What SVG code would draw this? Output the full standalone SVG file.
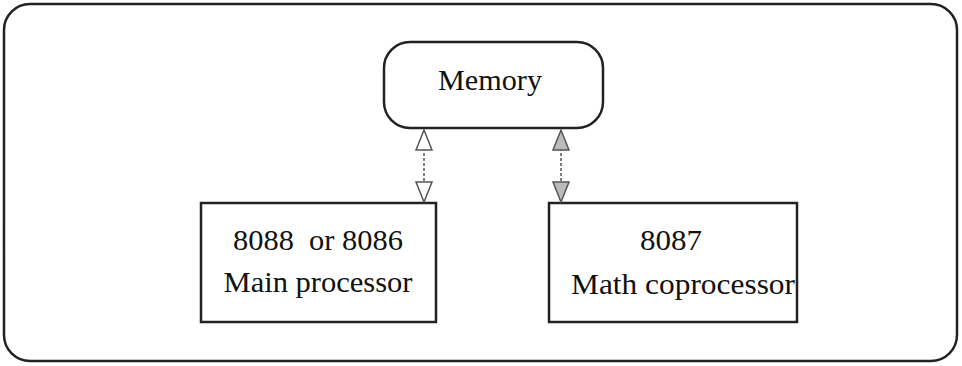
<svg xmlns="http://www.w3.org/2000/svg" width="962" height="366" viewBox="0 0 962 366">
<style>
.frame{fill:none;stroke:#222;stroke-width:2.5}
.box{fill:#fff;stroke:#222;stroke-width:2.5}
.t{font-family:"Liberation Serif","Times New Roman",serif;fill:#111;text-anchor:middle}
.conn{stroke:#555;stroke-width:1.5;stroke-dasharray:3 2;fill:none}
.head{fill:#fff;stroke:#555;stroke-width:1.5}
.head2{fill:#bbb;stroke:#555;stroke-width:1.5}
</style>
<rect width="962" height="366" fill="#fff"/>
<rect class="frame" x="4" y="4" width="953" height="357" rx="26"/>
<g id="memory">
<rect class="box" x="384" y="42" width="219" height="86" rx="26"/>
<text class="t" x="490" y="90" font-size="29" textLength="104" lengthAdjust="spacingAndGlyphs">Memory</text>
</g>
<g id="main">
<rect class="box" x="201" y="203" width="235" height="119"/>
<text class="t" x="318" y="250" font-size="29" textLength="170" lengthAdjust="spacingAndGlyphs" xml:space="preserve">8088  or 8086</text>
<text class="t" x="318" y="292" font-size="30" textLength="189" lengthAdjust="spacingAndGlyphs">Main processor</text>
</g>
<g id="math">
<rect class="box" x="549" y="203" width="248" height="119"/>
<text class="t" x="671" y="250" font-size="29" textLength="62" lengthAdjust="spacingAndGlyphs">8087</text>
<text class="t" x="683" y="294" font-size="30" textLength="224" lengthAdjust="spacingAndGlyphs">Math coprocessor</text>
</g>
<g id="connectors">
<line class="conn" x1="424" y1="148" x2="424" y2="182"/>
<polygon class="head" points="424,130 416,150 432,150"/>
<polygon class="head" points="424,202 416,182 432,182"/>
<line class="conn" x1="561" y1="148" x2="561" y2="182"/>
<polygon class="head2" points="561,130 553,150 569,150"/>
<polygon class="head2" points="561,202 553,182 569,182"/>
</g>
</svg>
